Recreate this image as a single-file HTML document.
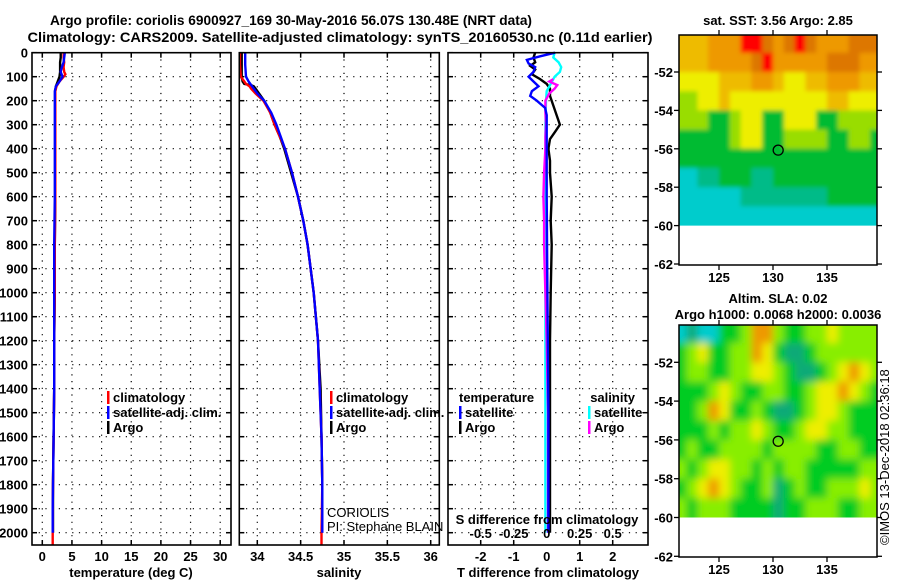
<!DOCTYPE html>
<html><head><meta charset="utf-8">
<style>
html,body{margin:0;padding:0;background:#fff;}
svg{display:block;font-family:"Liberation Sans",Arial,sans-serif;font-weight:bold;}
text{font-size:13px;fill:#000;}
</style></head>
<body>
<svg id="chart" width="900" height="580" viewBox="0 0 900 580" xmlns="http://www.w3.org/2000/svg">
<defs>
<filter id="blurSla" x="-5%" y="-5%" width="110%" height="110%"><feGaussianBlur stdDeviation="4"/></filter>
<filter id="blurSst" x="-5%" y="-5%" width="110%" height="110%"><feGaussianBlur stdDeviation="2"/></filter>
</defs>
<rect x="0" y="0" width="900" height="580" fill="#fff"/>
<text x="291" y="25" text-anchor="middle" style="font-size:14px" textLength="482" lengthAdjust="spacingAndGlyphs">Argo profile: coriolis 6900927_169 30-May-2016 56.07S 130.48E (NRT data)</text>
<text x="340" y="42" text-anchor="middle" style="font-size:14px" textLength="625" lengthAdjust="spacingAndGlyphs">Climatology: CARS2009. Satellite-adjusted climatology: synTS_20160530.nc (0.11d earlier)</text>
<g id="layer"></g>
</svg>
<script>
// ---------- Temperature panel data ----------
const tArgoDepth = [0,20,40,60,80,100,120,140,160,200,300,400,500,600,800,1000,1200,1400,1600,1800,1900,2000];
const tArgo      = [3.1,3.1,3.0,3.0,3.0,2.9,2.6,2.3,2.2,2.2,2.2,2.2,2.2,2.2,2.1,2.1,2.0,2.0,1.9,1.8,1.8,1.8];
const tClimDepth = [0,20,40,60,80,90,100,120,140,160,200,300,400,500,600,800,1000,1200,1400,1600,1800,1900,2050];
const tClim      = [3.6,3.6,3.7,3.6,3.7,3.9,3.6,2.9,2.4,2.2,2.2,2.2,2.2,2.2,2.2,2.1,2.1,2.0,2.0,1.9,1.8,1.75,1.75];
const tSatDepth  = [0,20,40,60,80,100,120,140,160,200,300,400,500,600,800,1000,1200,1400,1600,1800,1900,2000];
const tSat       = [3.8,3.7,3.6,3.3,3.1,3.4,2.9,2.3,2.1,2.1,2.1,2.1,2.1,2.1,2.0,2.0,2.0,2.0,1.9,1.8,1.75,1.75];
const tTicks = [0,5,10,15,20,25,30];
const depthTicks = [0,100,200,300,400,500,600,700,800,900,1000,1100,1200,1300,1400,1500,1600,1700,1800,1900,2000];
// ---------- Salinity panel data ----------
const sArgoDepth = [0,50,100,120,130,135,140,150,170,200,250,300,350,400,500,600,700,800,1000,1200,1400,1600,1800,2000];
const sArgo      = [33.82,33.82,33.82,33.83,33.85,33.93,33.96,33.98,34.02,34.08,34.15,34.2,34.26,34.31,34.39,34.47,34.53,34.58,34.65,34.7,34.73,34.74,34.75,34.75];
const sClimDepth = [0,50,100,120,130,135,140,150,170,200,250,300,350,400,500,600,700,800,1000,1200,1400,1600,1800,2000,2050];
const sClim      = [33.8,33.8,33.81,33.85,33.87,33.89,33.91,33.93,33.98,34.07,34.15,34.2,34.26,34.32,34.4,34.47,34.53,34.58,34.65,34.7,34.72,34.74,34.75,34.74,34.74];
const sSatDepth  = [0,50,100,120,130,135,140,150,170,200,250,300,350,400,500,600,700,800,1000,1200,1400,1600,1800,2000];
const sSat       = [33.86,33.86,33.87,33.9,33.92,33.93,33.94,33.96,34.0,34.08,34.16,34.22,34.27,34.32,34.4,34.47,34.53,34.58,34.65,34.7,34.72,34.74,34.75,34.75];
const sTicks = [34,34.5,35,35.5,36];
// ---------- Difference panel data ----------
const dTArgoDepth = [0,20,40,55,70,90,110,130,150,180,220,260,300,330,360,400,450,500,600,700,800,1000,1200,1500,1800,2000];
const dTArgo      = [-0.35,-0.4,-0.35,-0.5,-0.35,-0.45,-0.2,0.0,0.1,0.1,0.2,0.3,0.4,0.25,0.1,0.05,0.1,0.1,0.15,0.12,0.15,0.12,0.1,0.1,0.1,0.1];
const dTSatDepth  = [0,15,30,45,60,80,100,120,140,160,180,200,230,260,300,400,600,1000,1500,2000];
const dTSat       = [0.25,-0.2,-0.6,-0.55,-0.35,-0.4,-0.55,-0.4,-0.25,-0.45,-0.5,-0.3,-0.05,0.0,0.0,0.0,0.0,0.02,0.05,0.05];
const dSSatDepth  = [0,20,40,60,80,100,130,160,200,300,500,800,1200,1600,2000];
const dSSat       = [0.06,0.05,0.09,0.11,0.1,0.06,0.03,0.0,-0.005,-0.01,-0.01,-0.01,-0.01,-0.01,-0.01];
const dSArgoDepth = [110,120,135,150,170,200,250,300,350,400,500,600,700,800,900,1000,1200,1500,1800,2000];
const dSArgo      = [0.05,0.02,0.08,0.06,0.02,-0.01,-0.01,-0.005,-0.01,-0.01,-0.02,-0.025,-0.02,-0.02,-0.015,-0.01,0.0,0.01,0.01,0.01];
const dTTicks = [-2,-1,0,1,2];
const dTTickLabels = ["-2","-1","0","1","2"];
const dSTicks = [-0.5,-0.25,0,0.25,0.5];
const dSTickLabels = ["-0.5","-0.25","0","0.25","0.5"];
// ---------- Map data (1-degree cells, lon 121..139, lat -50..-60) ----------
const mapLons = [121,122,123,124,125,126,127,128,129,130,131,132,133,134,135,136,137,138,139];
const mapLats = [-50,-51,-52,-53,-54,-55,-56,-57,-58,-59];
const sstGrid = [
 [6,6,6,7,7,7,9,9,8,7,8,9,8,7,7,7,8,8,8],
 [6,6,6,7,7,7,7,8,9,7,7,7,7,7,8,8,8,7,7],
 [5,5,5,5,6,6,6,7,7,6,5,5,6,6,7,7,7,6,6],
 [4,4,5,5,6,5,5,5,5,5,5,5,5,5,6,6,5,5,5],
 [4,4,4,3,3,4,5,5,3,3,5,5,5,3,3,4,4,4,4],
 [3,3,3,3,3,4,5,5,3,3,4,4,4,4,3,3,4,4,3],
 [3,3,3,3,3,3,3,3,3,3,3,3,3,3,3,3,3,3,3],
 [1,1,2,2,3,3,3,2,2,3,3,3,3,3,3,3,3,3,3],
 [1,1,1,1,1,1,2,2,2,2,2,2,2,2,3,3,3,3,3],
 [1,1,1,1,1,1,1,1,1,1,1,1,1,1,1,1,1,1,1]];
const slaGrid = [
 [0,1,0,0,2,2,3,5,5,3,2,2,3,3,4,3,3,3,3],
 [2,3,4,2,2,3,3,5,4,2,1,1,2,3,3,3,3,3,3],
 [2,3,3,2,2,3,3,4,4,3,2,1,1,2,3,4,5,4,3],
 [2,2,2,3,4,3,2,2,3,3,2,2,3,4,4,5,4,3,2],
 [2,2,3,5,4,2,2,3,2,1,1,2,3,4,4,3,2,2,2],
 [2,2,2,3,2,3,3,4,3,2,2,3,4,4,3,3,2,2,2],
 [2,3,2,2,3,3,3,3,2,3,3,3,3,2,2,3,3,2,2],
 [3,2,3,4,4,3,3,2,3,2,3,3,2,2,2,2,2,3,3],
 [2,3,4,5,4,3,2,2,3,1,2,3,2,2,3,3,3,4,3],
 [3,2,3,3,3,2,2,2,2,1,2,2,3,3,3,2,2,3,3]];
const mapLonTicks = [125,130,135];
const mapLatTicks = [-52,-54,-56,-58,-60,-62];
const argoLon = 130.48, argoLat = -56.07;

const NS = "http://www.w3.org/2000/svg";
const layer = document.getElementById('layer');
function mk(tag, attrs, parent){ const e=document.createElementNS(NS,tag); for(const k in attrs) e.setAttribute(k,attrs[k]); (parent||layer).appendChild(e); return e; }

const yTop = 52.7, yBot = 545;
function yD(d){ return yTop + d*0.24; }
function xT(v){ return 42.3 + v*5.93; }
function xS(v){ return 257.3 + (v-34)*86.7; }
function xDT(v){ return 546.7 + v*33; }
function xDS(v){ return 546.7 + v*4*33; }

function panelFrame(name){
  const g=mk('g',{});
  
  
  return g;
}
function drawGridAndBorder(g,x0,x1,vx){
  depthTicks.forEach(d=>{
    const y=yD(d);
    if(d>0) mk('line',{x1:x0,y1:y,x2:x1,y2:y,stroke:'#000','stroke-width':1.2,'stroke-dasharray':'1.2,5.5'},g);
    mk('line',{x1:x0,y1:y,x2:x0+5,y2:y,stroke:'#000','stroke-width':1.5},g);
    mk('line',{x1:x1-5,y1:y,x2:x1,y2:y,stroke:'#000','stroke-width':1.5},g);
  });
  vx.forEach(x=>{
    mk('line',{x1:x,y1:yTop,x2:x,y2:yBot,stroke:'#000','stroke-width':1.2,'stroke-dasharray':'1.2,5.5'},g);
    mk('line',{x1:x,y1:yBot-5,x2:x,y2:yBot,stroke:'#000','stroke-width':1.5},g);
    mk('line',{x1:x,y1:yTop,x2:x,y2:yTop+5,stroke:'#000','stroke-width':1.5},g);
  });
}
function border(g,x0,x1){ mk('rect',{x:x0,y:yTop,width:x1-x0,height:yBot-yTop,fill:'none',stroke:'#000','stroke-width':1.6},g); }
function line(g,depths,vals,fx,color,name){
  const pts=depths.map((d,i)=>fx(vals[i]).toFixed(1)+','+yD(d).toFixed(1)).join(' ');
  const p=mk('polyline',{points:pts,fill:'none',stroke:color,'stroke-width':2.4},g);
  
  
}
function txt(g,x,y,s,anchor,extra){ const t=mk('text',Object.assign({x:x,y:y,'text-anchor':anchor||'start'},extra||{}),g); t.textContent=s; return t; }
function legendItem(g,x,y,color,label,name){
  const gg=mk('g',{},g);
  
  
  mk('rect',{x:x,y:y-11,width:2.5,height:13,fill:color},gg);
  txt(gg,x+6,y,label,'start');
}

// ---- Panel 1: temperature ----
const g1=panelFrame('temperature-panel');
drawGridAndBorder(g1,32,231,tTicks.map(xT));
line(g1,tArgoDepth,tArgo,xT,'#000','temperature-argo-line');
line(g1,tClimDepth,tClim,xT,'#ff0000','temperature-climatology-line');
line(g1,tSatDepth,tSat,xT,'#0000ff','temperature-satellite-line');
border(g1,32,231);
depthTicks.forEach(d=>{ const t=txt(g1,28,yD(d)+5,String(d),'end');   });
tTicks.forEach(v=>{ const t=txt(g1,xT(v),561,String(v),'middle');   });
const at1=txt(g1,131,577,'temperature (deg C)','middle');  
legendItem(g1,107,402,'#ff0000','climatology','legend-climatology');
legendItem(g1,107,417,'#0000ff','satellite-adj. clim.','legend-satellite-adj');
legendItem(g1,107,432,'#000','Argo','legend-argo');

// ---- Panel 2: salinity ----
const g2=panelFrame('salinity-panel');
drawGridAndBorder(g2,239.3,439.3,sTicks.map(xS));
line(g2,sArgoDepth,sArgo,xS,'#000','salinity-argo-line');
line(g2,sClimDepth,sClim,xS,'#ff0000','salinity-climatology-line');
line(g2,sSatDepth,sSat,xS,'#0000ff','salinity-satellite-line');
border(g2,239.3,439.3);
sTicks.forEach(v=>{ const t=txt(g2,xS(v),561,String(v),'middle');   });
const at2=txt(g2,339,577,'salinity','middle');  
legendItem(g2,330,402,'#ff0000','climatology','legend-climatology-s');
legendItem(g2,330,417,'#0000ff','satellite-adj. clim.','legend-satellite-adj-s');
legendItem(g2,330,432,'#000','Argo','legend-argo-s');
const c1=txt(g2,327,517,'CORIOLIS','start',{style:'font-weight:normal;font-size:13px'});  
const c2=txt(g2,327,531,'PI: Stephane BLAIN','start',{style:'font-weight:normal;font-size:13px'});  

// ---- Panel 3: differences ----
const g3=panelFrame('difference-panel');
drawGridAndBorder(g3,448,648,dTTicks.filter(v=>v!==0).map(xDT));
line(g3,dTArgoDepth,dTArgo,xDT,'#000','t-diff-argo-line');
line(g3,dSSatDepth,dSSat,xDS,'#00ffff','s-diff-satellite-line');
line(g3,dSArgoDepth,dSArgo,xDS,'#ff00ff','s-diff-argo-line');
line(g3,dTSatDepth,dTSat,xDT,'#0000ff','t-diff-satellite-line');
border(g3,448,648);
dTTicks.forEach((v,i)=>{ const t=txt(g3,xDT(v),561,dTTickLabels[i],'middle');   });
dSTicks.forEach((v,i)=>{ const t=txt(g3,xDS(v),538,dSTickLabels[i],'middle');   });
const sd=txt(g3,547,524,'S difference from climatology','middle');  
const at3=txt(g3,548,577,'T difference from climatology','middle');  
const lt=txt(g3,459,402,'temperature','start');  
const ls=txt(g3,635,402,'salinity','end');  
legendItem(g3,459,417,'#0000ff','satellite','legend-t-satellite');
legendItem(g3,459,432,'#000','Argo','legend-t-argo');
legendItem(g3,588,417,'#00ffff','satellite','legend-s-satellite');
legendItem(g3,588,432,'#ff00ff','Argo','legend-s-argo');

// ---- Maps ----
const sstColors=['#0000ff','#00cccc','#00bb88','#00bb33','#99dd00','#eeee00','#eebb00','#ee9900','#dd7700','#ff0000'];
const slaColors=['#00cccc','#11aa77','#00cc22','#88ee00','#eeee00','#ee9900'];
function drawMap(name,x0,x1,yT,yB,yLat52,pxLat,grid,colors,titles,titleY,filt){
  const g=mk('g',{});
  
  
  const pxLon=10.8;
  const fx=lon=>719+(lon-125)*pxLon;
  const fy=lat=>yLat52+(-52-lat)*pxLat;
  const clip='clip-'+name;
  const cp=mk('clipPath',{id:clip},g); mk('rect',{x:x0,y:yT,width:x1-x0,height:fy(-60)-yT},cp);
  const outer=mk('g',{'clip-path':'url(#'+clip+')'},g);
  const cg=mk('g',{filter:'url(#'+filt+')'},outer);
  mapLats.forEach((lat,r)=>mapLons.forEach((lon,c)=>{
    // extend edge cells outward so the blur doesn't fade at the borders
    let x=fx(lon), y=fy(lat), w=pxLon+0.6, h=pxLat+0.6;
    if(c===0){x-=12;w+=12;} if(c===mapLons.length-1){w+=12;}
    if(r===0){y-=12;h+=12;} if(r===mapLats.length-1){h+=12;}
    const cell=mk('rect',{x:x.toFixed(1),y:y.toFixed(1),width:w.toFixed(1),height:h.toFixed(1),fill:colors[grid[r][c]]},cg);
    
    
  }));
  const m=mk('circle',{cx:fx(argoLon),cy:fy(argoLat),r:5,fill:'none',stroke:'#000','stroke-width':1.3},g);
  
  
  mk('rect',{x:x0,y:yT,width:x1-x0,height:yB-yT,fill:'none',stroke:'#000','stroke-width':1.5},g);
  mapLatTicks.forEach(lat=>{ const y=fy(lat);
    mk('line',{x1:x0-5,y1:y,x2:x0,y2:y,stroke:'#000','stroke-width':1.3},g);
    mk('line',{x1:x1,y1:y,x2:x1+5,y2:y,stroke:'#000','stroke-width':1.3},g);
    const t=txt(g,x0-6,y+5,String(lat),'end');   });
  mapLonTicks.forEach(lon=>{ const x=fx(lon);
    mk('line',{x1:x,y1:yT-5,x2:x,y2:yT,stroke:'#000','stroke-width':1.3},g);
    mk('line',{x1:x,y1:yB,x2:x,y2:yB+5,stroke:'#000','stroke-width':1.3},g);
    const t=txt(g,x,yB+17,String(lon),'middle');   });
  titles.forEach((s,i)=>{ const t=txt(g,778,titleY[i],s,'middle');   });
}
drawMap('sst-map',679,877,35,265,72,19.2,sstGrid,sstColors,['sat. SST: 3.56 Argo: 2.85'],[25],'blurSst');
drawMap('sla-map',679,877,325,557,362.3,19.4,slaGrid,slaColors,['Altim. SLA: 0.02','Argo h1000: 0.0068 h2000: 0.0036'],[303,319],'blurSla');
const cr=mk('text',{x:889,y:545,transform:'rotate(-90 889 545)',style:'font-weight:normal;font-size:13px'});
cr.textContent='©IMOS 13-Dec-2018 02:36:18';


</script>
</body></html>
